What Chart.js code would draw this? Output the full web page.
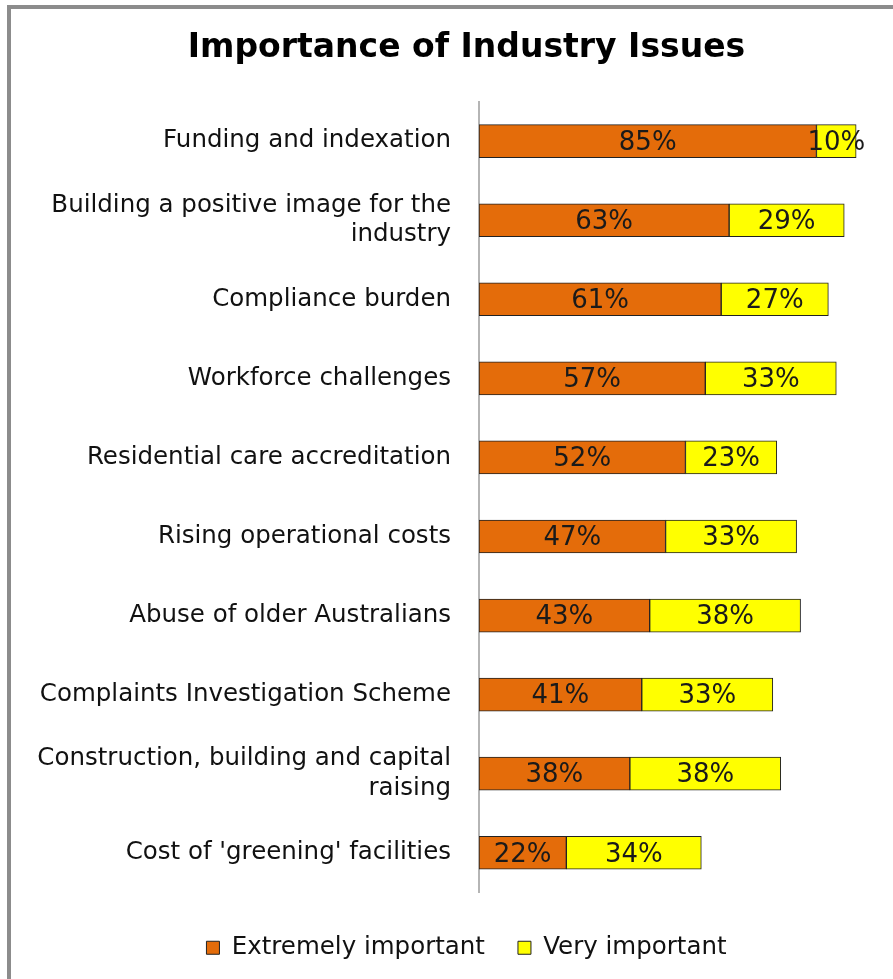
<!DOCTYPE html>
<html>
<head>
<meta charset="utf-8">
<script src="https://cdn.jsdelivr.net/npm/chart.js@4.4.1/dist/chart.umd.min.js"></script>
<style>
  body { margin: 0; background: #fff; overflow: hidden; }
  #frame { position: absolute; left: 7px; top: 5px; width: 1000px; height: 1100px; border: 4px solid #8c8c8c; }
  #wrap { position: absolute; left: 0; top: 0; width: 893px; height: 979px; }
</style>
</head>
<body>
<div id="frame"></div>
<div id="wrap"><canvas id="issuesChart"></canvas></div>
<script>
const issues = [
  "Funding and indexation",
  ["Building a positive image for the", "industry"],
  "Compliance burden",
  "Workforce challenges",
  "Residential care accreditation",
  "Rising operational costs",
  "Abuse of older Australians",
  "Complaints Investigation Scheme",
  ["Construction, building and capital", "raising"],
  "Cost of 'greening' facilities"
];
const extremelyImportant = [85, 63, 61, 57, 52, 47, 43, 41, 38, 22];
const veryImportant = [10, 29, 27, 33, 23, 33, 38, 33, 38, 34];

const font = "'DejaVu Sans', Verdana, sans-serif";

// valores dentro das barras
const barLabels = {
  id: "barLabels",
  afterDatasetsDraw(chart) {
    const ctx = chart.ctx;
    ctx.save();
    ctx.font = "26px " + font;
    ctx.fillStyle = "#1a1a1a";
    ctx.textAlign = "center";
    ctx.textBaseline = "middle";
    chart.data.datasets.forEach((ds, i) => {
      chart.getDatasetMeta(i).data.forEach((bar, j) => {
        ctx.fillText(ds.data[j] + "%", (bar.x + bar.base) / 2, bar.y + 2);
      });
    });
    ctx.restore();
  }
};

// titulo e legenda um pouco para a direita, como no original
const shiftBlocks = {
  id: "shiftBlocks",
  afterLayout(chart) {
    [chart.titleBlock, chart.legend].forEach((box) => {
      if (box) box.left += 37;
    });
  }
};

new Chart(document.getElementById("issuesChart"), {
  type: "bar",
  data: {
    labels: issues,
    datasets: [
      {
        label: "Extremely important",
        data: extremelyImportant,
        backgroundColor: "#E46C0A",
        borderColor: "#222",
        borderWidth: 1,
        borderSkipped: false,
        barThickness: 33
      },
      {
        label: "Very important",
        data: veryImportant,
        backgroundColor: "#FFFF00",
        borderColor: "#222",
        borderWidth: 1,
        borderSkipped: false,
        barThickness: 33
      }
    ]
  },
  options: {
    indexAxis: "y",
    responsive: true,
    maintainAspectRatio: false,
    animation: false,
    layout: { padding: { left: 20, right: 17, top: 0, bottom: 9 } },
    scales: {
      x: { stacked: true, min: 0, max: 100, display: false },
      y: {
        stacked: true,
        grid: { display: false, drawTicks: false },
        border: { display: true, color: "#b5b5b5", width: 2 },
        ticks: {
          padding: 28,
          color: "#111",
          font: { family: font, size: 24.5, lineHeight: 1.2 }
        },
        afterFit(scale) { scale.width = 459; }
      }
    },
    plugins: {
      title: {
        display: true,
        text: "Importance of Industry Issues",
        color: "#000",
        font: { family: font, size: 33, weight: "bold" },
        padding: { top: 29, bottom: 33 }
      },
      legend: {
        position: "bottom",
        title: { display: true, text: "", font: { size: 1 }, padding: { top: 9, bottom: 0 } },
        labels: {
          color: "#111",
          boxWidth: 13,
          boxHeight: 13,
          padding: 33,
          font: { family: font, size: 24.5 }
        }
      },
      tooltip: { enabled: false }
    }
  },
  plugins: [barLabels, shiftBlocks]
});
</script>
</body>
</html>
